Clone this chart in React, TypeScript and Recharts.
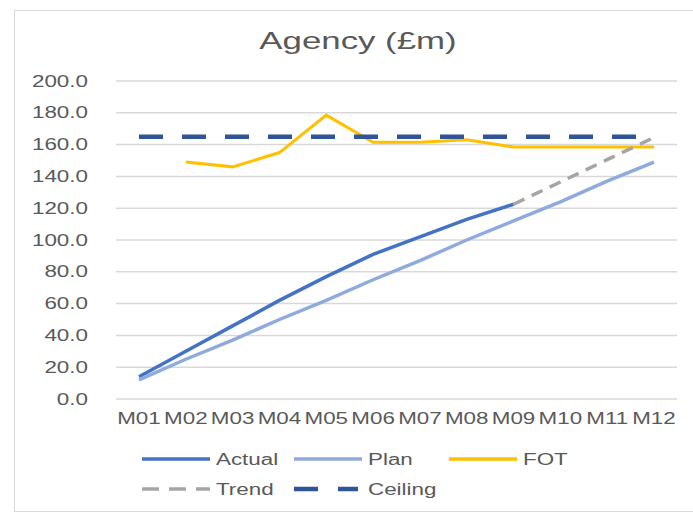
import React from "react";
import { CartesianGrid, Legend, Line, LineChart, XAxis, YAxis } from "recharts";

const months = ["M01", "M02", "M03", "M04", "M05", "M06", "M07", "M08", "M09", "M10", "M11", "M12"];
const actual = [14, 30, 46, 62, 77, 91, 102, 113, 122.5, null, null, null];
const plan = [12, 25, 37, 50, 62, 75, 87, 100, 112, 124, 137, 149];
const fot = [null, 149, 146, 155, 178.5, 161.5, 161.5, 163, 158.5, 158.5, 158.5, 158.5];
const trend = [null, null, null, null, null, null, null, null, 122.5, 136.5, 150.5, 164.5];
const ceiling = [165, 165, 165, 165, 165, 165, 165, 165, 165, 165, 165, 165];
const yTicks = [0, 20, 40, 60, 80, 100, 120, 140, 160, 180, 200];
const legendOrder = ["Actual", "Plan", "FOT", "Trend", "Ceiling"];

const data = months.map((m, i) => ({
  month: m,
  Actual: actual[i],
  Plan: plan[i],
  FOT: fot[i],
  Trend: trend[i],
  Ceiling: ceiling[i],
}));

const SX = 1.4;
const TEXT = "#595959";
const FONT = "'Liberation Sans', Arial, sans-serif";

function XTick(props: any) {
  const { x, y, payload } = props;
  return (
    <text
      transform={`translate(${x},${y}) scale(${SX},1)`}
      textAnchor="middle"
      dy="0.71em"
      fill={TEXT}
      fontSize={16}
      fontFamily={FONT}
    >
      {payload.value}
    </text>
  );
}

function YTick(props: any) {
  const { x, y, payload } = props;
  return (
    <text
      transform={`translate(${x},${y}) scale(${SX},1)`}
      textAnchor="end"
      dy="0.355em"
      fill={TEXT}
      fontSize={16}
      fontFamily={FONT}
    >
      {Number(payload.value).toFixed(1)}
    </text>
  );
}

const colX = [0, 152, 307];

function LegendContent(props: any) {
  const items = [...(props.payload || [])].sort(
    (a: any, b: any) => legendOrder.indexOf(a.value) - legendOrder.indexOf(b.value)
  );
  return (
    <svg width={460} height={60}>
      {items.map((it: any, i: number) => {
        const x = colX[i % 3];
        const y = 14 + Math.floor(i / 3) * 30;
        const isCeil = it.value === "Ceiling";
        const isTrend = it.value === "Trend";
        return (
          <g key={it.value}>
            <line
              x1={x + 2}
              x2={x + (isCeil ? 66 : 70)}
              y1={y}
              y2={y}
              stroke={it.color}
              strokeWidth={isCeil ? 4.5 : 3.5}
              strokeDasharray={isCeil ? "24 20" : isTrend ? "17 10" : undefined}
            />
            <text
              transform={`translate(${x + 76},${y}) scale(${SX},1)`}
              dy="0.355em"
              fill={TEXT}
              fontSize={16}
              fontFamily={FONT}
            >
              {it.value}
            </text>
          </g>
        );
      })}
    </svg>
  );
}

export default function App() {
  return (
    <div style={{ position: "absolute", left: 0, top: 0, width: 693, height: 515, background: "#fff", overflow: "hidden" }}>
      <div
        style={{
          position: "absolute",
          left: 14,
          top: 10,
          width: 700,
          height: 502,
          border: "1.5px solid #D9D9D9",
          boxSizing: "border-box",
        }}
      />
      <div
        style={{
          position: "absolute",
          left: 0,
          width: 716,
          top: 27,
          textAlign: "center",
          fontFamily: FONT,
          fontSize: 24,
          color: TEXT,
          transform: "scaleX(1.45)",
          transformOrigin: "358px 0",
        }}
      >
        Agency (£m)
      </div>
      <div style={{ position: "absolute", left: 0, top: 0 }}>
        <LineChart width={693} height={515} data={data} margin={{ top: 81, right: 16, bottom: 86, left: 0 }}>
          <CartesianGrid vertical={false} stroke="#D9D9D9" strokeWidth={1.5} />
          <XAxis
            dataKey="month"
            axisLine={false}
            tickLine={false}
            height={30}
            tickMargin={8}
            interval={0}
            padding={{ left: 23, right: 23 }}
            tick={<XTick />}
          />
          <YAxis
            domain={[0, 200]}
            ticks={yTicks}
            width={116}
            axisLine={false}
            tickLine={false}
            tickMargin={22}
            tick={<YTick />}
          />
          <Line dataKey="Actual" stroke="#4472C4" strokeWidth={3.5} dot={false} isAnimationActive={false} />
          <Line dataKey="Plan" stroke="#8FAADC" strokeWidth={3.5} dot={false} isAnimationActive={false} />
          <Line dataKey="FOT" stroke="#FFC000" strokeWidth={3} dot={false} isAnimationActive={false} />
          <Line
            dataKey="Trend"
            stroke="#A5A5A5"
            strokeWidth={3.5}
            strokeDasharray="12 8"
            dot={false}
            isAnimationActive={false}
          />
          <Line
            dataKey="Ceiling"
            stroke="#2F5597"
            strokeWidth={4.5}
            strokeDasharray="24 19"
            dot={false}
            isAnimationActive={false}
          />
          <Legend
            layout="horizontal"
            verticalAlign="middle"
            align="center"
            content={<LegendContent />}
            wrapperStyle={{ top: 445, left: 140, width: 460 }}
          />
        </LineChart>
      </div>
    </div>
  );
}
